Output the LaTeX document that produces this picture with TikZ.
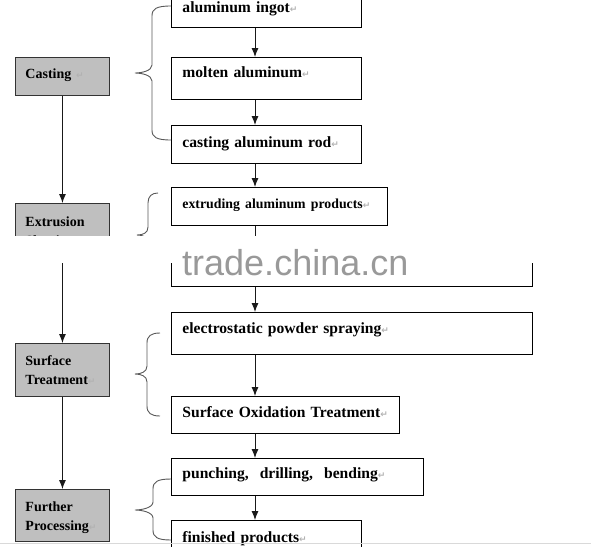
\documentclass[tikz,border=0pt]{standalone}
\usepackage{fontspec}
\setmainfont{Liberation Serif}
\setsansfont{Liberation Sans}
\newfontfamily\markfont{DejaVu Sans}
\usetikzlibrary{arrows.meta}
\newcommand{\pmark}{{\markfont\fontsize{9}{9}\selectfont\color{black!30}↵}}
\begin{document}
\begin{tikzpicture}
[x=1pt, y=-1pt,
  stagebox/.style={draw=black!80, fill=black!25, line width=0.9pt, anchor=north west,
    inner xsep=10pt, inner ysep=0pt, align=left, font=\bfseries\fontsize{14}{19.5}\selectfont},
  stepbox/.style={draw=black, fill=white, line width=0.9pt, anchor=north west,
    inner xsep=11pt, inner ysep=0pt, align=left, font=\bfseries\fontsize{15.6}{18}\selectfont},
  flowline/.style={-{Latex[length=9pt,width=7pt]}, line width=0.9pt, black!90},
  bracedecorate/.style={line width=0.9pt, black!65}]
\useasboundingbox (0,0) rectangle (591,546);
\fill[white] (0,0) rectangle (591,546);
%% stages on the left
\foreach \nodename/\x/\y/\w/\th/\td/\txt in {
  casting/15/57/74/21/17/{Casting \pmark},
  extrusion/15/203/74/23/32/{Extrusion\\Shaping\pmark},
  surface/15/343/74/22/31/{Surface\\Treatment\pmark},
  further/15/489/74/22/30/{Further\\Processing\pmark}}
{
  \node (\nodename) at (\x,\y) [stagebox, text width=\w pt, text height=\th pt,
    text depth=\td pt] {\txt};
}
%% steps on the right
\foreach \nodename/\x/\y/\w/\th/\td/\txt in {
  ingot/171/-10/168/22/15/{aluminum ingot\pmark},
  molten/171/57/168/20/22/{molten aluminum\pmark},
  rod/171/125/168/22/16/{casting aluminum rod\pmark},
  extrude/171/187/194/21/17/{\fontsize{13.8}{16}\selectfont extruding aluminum products\pmark},
  profile/171/248/339/38/0/{},
  spray/171/312/339/21/21/{electrostatic powder spraying\pmark},
  oxidation/171/396/206/21/16/{Surface Oxidation Treatment\pmark},
  punch/171/458/230/20/17/{punching,\hspace{11pt}drilling,\hspace{11pt}bending\pmark},
  finish/171/520/168/22/18/{finished products\pmark}}
{
  \node (\nodename) at (\x,\y) [stepbox, text width=\w pt, text height=\th pt,
    text depth=\td pt] {\txt};
}
%% arrows
\foreach \startnode/\endnode in {casting/extrusion, extrusion/surface, surface/further}
{
  \draw[flowline] (\startnode.south) -- (\endnode.north);
}
\foreach \startnode/\endnode in {ingot/molten, molten/rod, rod/extrude, extrude/profile,
  profile/spray, spray/oxidation, oxidation/punch, punch/finish}
{
  \draw[flowline] ([xshift=84pt]\startnode.south west) -- ([xshift=84pt]\startnode.south west |- \endnode.north);
}
%% braces
\foreach \xe/\xm/\xt/\ya/\yt/\yb in {171/152/135/6/73/140, 158/148/137/193/235/258,
  160/147/135/333/374/416, 171/153/135/479/510/540}
{
  \draw[bracedecorate] (\xe,\ya) .. controls (\xm+4,\ya) and (\xm,\ya+3) .. (\xm,\ya+10)
    -- (\xm,\yt-8) .. controls (\xm,\yt-2) and (\xt+6,\yt) .. (\xt,\yt)
    .. controls (\xt+6,\yt) and (\xm,\yt+2) .. (\xm,\yt+8)
    -- (\xm,\yb-10) .. controls (\xm,\yb-3) and (\xm+4,\yb) .. (\xe,\yb);
}
%% watermark band
\fill[white] (0,236) rectangle (591,263);
\node (watermark) at (182,275) [anchor=base west, inner sep=0pt, text=black!40,
  font=\sffamily\fontsize{36}{36}\selectfont] {trade.china.cn};
\draw[black!15] (0,543.5) -- (591,543.5);
\end{tikzpicture}
\end{document}
